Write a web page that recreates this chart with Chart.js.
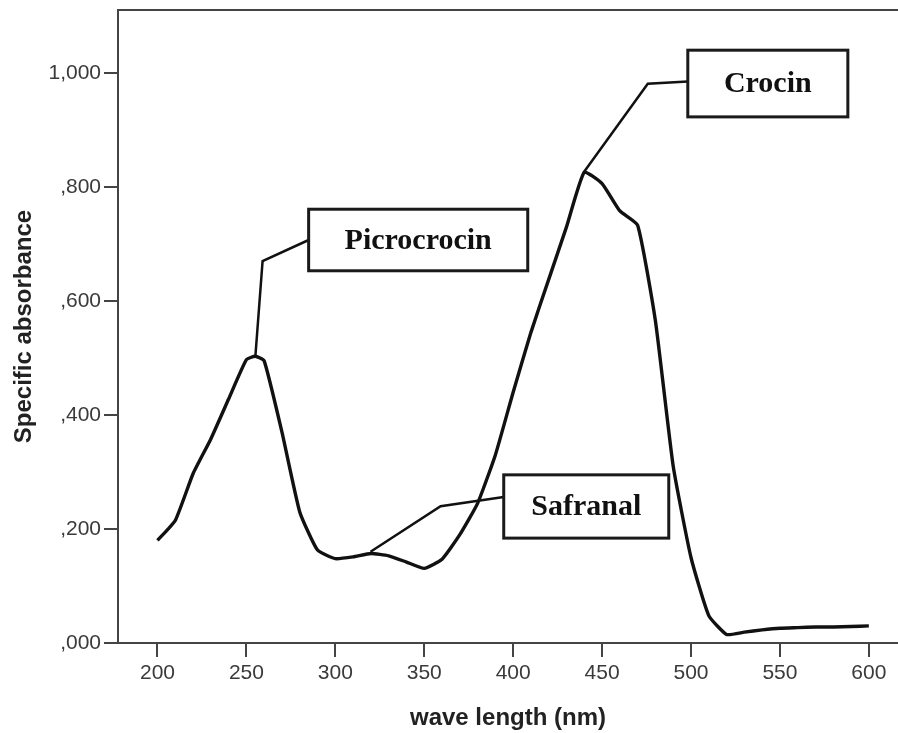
<!DOCTYPE html>
<html>
<head>
<meta charset="utf-8">
<script src="https://cdn.jsdelivr.net/npm/chart.js@4.4.0/dist/chart.umd.min.js"></script>
<style>
  html, body { margin: 0; padding: 0; background: #ffffff; }
  #wrap { width: 898px; height: 733px; }
</style>
</head>
<body>
<div id="wrap"><canvas id="c" width="898" height="733"></canvas></div>
<script>
// ---- data ----
const wavelengths = [200,210,220,230,240,250,255,260,270,280,290,300,310,320,330,340,350,360,370,380,390,400,410,420,430,440,450,460,470,480,490,500,510,520,530,540,550,560,570,580,590,600];
const absorbance  = [0.180,0.215,0.297,0.358,0.428,0.497,0.503,0.495,0.370,0.230,0.163,0.148,0.151,0.157,0.153,0.142,0.131,0.147,0.190,0.245,0.330,0.440,0.545,0.638,0.730,0.826,0.806,0.758,0.733,0.565,0.310,0.150,0.048,0.015,0.019,0.023,0.026,0.027,0.028,0.028,0.029,0.030];
const xTickValues = [200,250,300,350,400,450,500,550,600];
const yTickValues = [0,0.2,0.4,0.6,0.8,1.0];
const yTickLabels = [',000', ',200', ',400', ',600', ',800', '1,000'];

const labelNames = ['Crocin', 'Picrocrocin', 'Safranal'];
// callout geometry in data units: box [x0, x1, y0, y1], leader path points [[x,y],...]
const callouts = [
  { text: labelNames[0], box: [498.2, 588.2, 0.923, 1.040], path: [[498.2, 0.985], [475.7, 0.981], [439.7, 0.826]] },
  { text: labelNames[1], box: [285.0, 408.2, 0.653, 0.761], path: [[285.0, 0.707], [259.1, 0.670], [255.1, 0.505]] },
  { text: labelNames[2], box: [394.7, 487.5, 0.184, 0.295], path: [[394.7, 0.256], [359.2, 0.240], [319.8, 0.160]] }
];

const points = wavelengths.map((w, i) => ({ x: w, y: absorbance[i] }));

const calloutPlugin = {
  id: 'callouts',
  afterDatasetsDraw(chart) {
    const { ctx, scales: { x, y }, chartArea } = chart;
    ctx.save();
    // top frame line
    ctx.strokeStyle = '#444';
    ctx.lineWidth = 2;
    ctx.beginPath();
    ctx.moveTo(chartArea.left, chartArea.top);
    ctx.lineTo(chartArea.right, chartArea.top);
    ctx.stroke();

    callouts.forEach(c => {
      ctx.strokeStyle = '#111';
      ctx.lineWidth = 2.5;
      ctx.lineJoin = 'miter';
      ctx.beginPath();
      c.path.forEach((p, i) => {
        const px = x.getPixelForValue(p[0]), py = y.getPixelForValue(p[1]);
        if (i === 0) ctx.moveTo(px, py); else ctx.lineTo(px, py);
      });
      ctx.stroke();
      const bx0 = x.getPixelForValue(c.box[0]), bx1 = x.getPixelForValue(c.box[1]);
      const by0 = y.getPixelForValue(c.box[3]), by1 = y.getPixelForValue(c.box[2]);
      ctx.fillStyle = '#fff';
      ctx.fillRect(bx0, by0, bx1 - bx0, by1 - by0);
      ctx.lineWidth = 3;
      ctx.strokeStyle = '#1a1a1a';
      ctx.strokeRect(bx0, by0, bx1 - bx0, by1 - by0);
      ctx.fillStyle = '#111';
      ctx.font = 'bold 30px "Liberation Serif", "Times New Roman", serif';
      ctx.textAlign = 'center';
      ctx.textBaseline = 'middle';
      ctx.fillText(c.text, (bx0 + bx1) / 2, (by0 + by1) / 2 + 1);
    });
    ctx.restore();
  }
};

new Chart(document.getElementById('c'), {
  type: 'line',
  data: {
    datasets: [{
      data: points,
      borderColor: '#111',
      borderWidth: 3.4,
      pointRadius: 0,
      tension: 0.15,
      fill: false
    }]
  },
  options: {
    responsive: false,
    animation: false,
    layout: { padding: { top: 10, right: 0, left: 0, bottom: 0 } },
    plugins: { legend: { display: false }, tooltip: { enabled: false } },
    scales: {
      x: {
        type: 'linear',
        min: 177.8,
        max: 616.4,
        afterBuildTicks: s => { s.ticks = xTickValues.map(v => ({ value: v })); },
        afterFit: s => { s.height = 90; s.paddingLeft = 0; s.paddingRight = 0; },
        border: { display: true, color: '#444', width: 2 },
        grid: { display: true, drawOnChartArea: false, drawTicks: true, tickLength: 14, color: '#444', lineWidth: 2 },
        ticks: {
          color: '#3a3a3a',
          font: { family: '"Liberation Sans", Arial, sans-serif', size: 21 },
          padding: 4,
          maxRotation: 0,
          callback: v => String(v)
        },
        title: {
          display: true,
          text: 'wave length (nm)',
          color: '#222',
          font: { family: '"Liberation Sans", Arial, sans-serif', size: 24, weight: 'bold' },
          padding: { top: 9, bottom: 0 }
        }
      },
      y: {
        type: 'linear',
        min: 0,
        max: 1.1105,
        afterBuildTicks: s => { s.ticks = yTickValues.map(v => ({ value: v })); },
        afterFit: s => { s.width = 118; s.paddingTop = 0; s.paddingBottom = 0; },
        border: { display: true, color: '#444', width: 2 },
        grid: { display: true, drawOnChartArea: false, drawTicks: true, tickLength: 14, color: '#444', lineWidth: 2 },
        ticks: {
          color: '#3a3a3a',
          font: { family: '"Liberation Sans", Arial, sans-serif', size: 21 },
          padding: 3,
          callback: (v) => { const i = yTickValues.findIndex(t => Math.abs(t - v) < 1e-6); return i >= 0 ? yTickLabels[i] : ''; }
        },
        title: {
          display: true,
          text: 'Specific absorbance',
          color: '#222',
          font: { family: '"Liberation Sans", Arial, sans-serif', size: 24, weight: 'bold' },
          padding: { top: 10, bottom: 10 }
        }
      }
    }
  },
  plugins: [calloutPlugin]
});
</script>
</body>
</html>
